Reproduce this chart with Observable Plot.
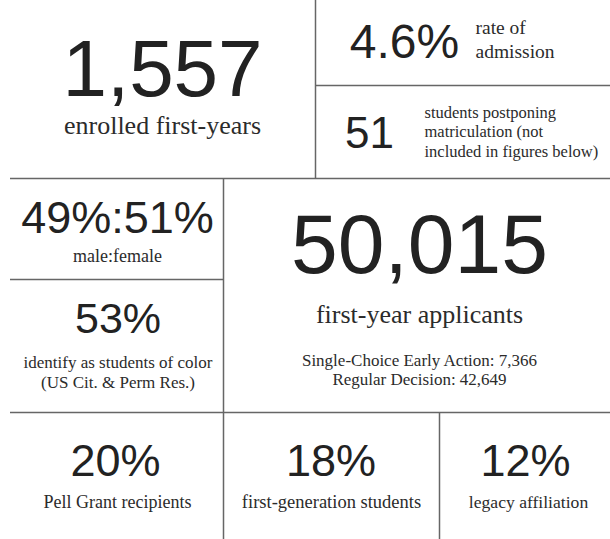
<!DOCTYPE html>
<html>
<head>
<meta charset="utf-8">
<script src="https://cdn.jsdelivr.net/npm/d3@7"></script>
<script src="https://cdn.jsdelivr.net/npm/@observablehq/plot@0.6"></script>
<style>
  html, body { margin: 0; padding: 0; background: #fff; }
  #chart svg { display: block; }
  #chart .serif-text, #chart .serif-text text { font-family: "Liberation Serif", "DejaVu Serif", serif !important; }
  #chart .sans-text, #chart .sans-text text { font-family: "Liberation Sans", Arial, sans-serif !important; }
</style>
</head>
<body>
<div id="chart"></div>
<script>
// ---- data ----
const figures = ["1,557", "4.6%", "51", "49%:51%", "53%", "50,015", "20%", "18%", "12%"];
const captions = [
  ["enrolled first-years"],
  ["rate of", "admission"],
  ["students postponing", "matriculation (not", "included in figures below)"],
  ["male:female"],
  ["identify as students of color", "(US Cit. & Perm Res.)"],
  ["first-year applicants"],
  ["Pell Grant recipients"],
  ["first-generation students"],
  ["legacy affiliation"]
];
const applicantBreakdown = ["Single-Choice Early Action: 7,366", "Regular Decision: 42,649"];

// ---- layout (positions / sizes, kept apart from the data) ----
const W = 610, H = 539;
const figureLayout = [
  {x: 162, y: 95,  size: 80},
  {x: 404, y: 57,  size: 48},
  {x: 369, y: 147, size: 44},
  {x: 117, y: 232, size: 45},
  {x: 117.5, y: 332, size: 43},
  {x: 419, y: 272, size: 84},
  {x: 115, y: 475, size: 45},
  {x: 330.5, y: 475, size: 45},
  {x: 525, y: 475, size: 45}
];
const captionLayout = [
  {x: 162, y: 133, size: 26, gap: 0, anchor: "middle"},
  {x: 475, y: 33, size: 19.5, gap: 24, anchor: "start"},
  {x: 424, y: 117, size: 16.5, gap: 19.5, anchor: "start"},
  {x: 117, y: 261, size: 18, gap: 0, anchor: "middle"},
  {x: 117.5, y: 367, size: 17, gap: 20, anchor: "middle"},
  {x: 419, y: 322, size: 26, gap: 0, anchor: "middle"},
  {x: 117, y: 507, size: 18, gap: 0, anchor: "middle"},
  {x: 331, y: 507, size: 18.5, gap: 0, anchor: "middle"},
  {x: 528, y: 507, size: 17.6, gap: 0, anchor: "middle"}
];
const breakdownLayout = {x: 419, y: 365, size: 17, gap: 19.5};

const hDividers = [
  {y: 85, x1: 315, x2: W},
  {y: 178, x1: 10, x2: W},
  {y: 279, x1: 10, x2: 223},
  {y: 412, x1: 10, x2: W}
];
const vDividers = [
  {x: 315, y1: 0, y2: 178},
  {x: 223, y1: 178, y2: H},
  {x: 439, y1: 412, y2: H}
];

// ---- build tables ----
const figureRows = figures.map((t, i) => ({text: t, ...figureLayout[i]}));
const captionRows = captions.flatMap((lines, i) =>
  lines.map((t, j) => ({
    text: t,
    x: captionLayout[i].x,
    y: captionLayout[i].y + j * captionLayout[i].gap,
    size: captionLayout[i].size,
    anchor: captionLayout[i].anchor
  }))
);
const breakdownRows = applicantBreakdown.map((t, j) => ({
  text: t, x: breakdownLayout.x, y: breakdownLayout.y + j * breakdownLayout.gap, size: breakdownLayout.size
}));

const textMarks = (rows, cls, font, fill) => {
  const byAnchor = d3.group(rows, d => d.anchor || "middle");
  return Array.from(byAnchor, ([anchor, rs]) =>
    Plot.text(rs, {
      x: "x", y: "y", text: "text",
      fontSize: d => d.size,
      textAnchor: anchor,
      lineAnchor: "bottom",
      fontFamily: font,
      className: cls,
      fill
    })
  );
};

const chart = Plot.plot({
  width: W,
  height: H,
  margin: 0,
  x: {domain: [0, W], range: [0, W], axis: null},
  y: {domain: [0, H], range: [0, H], axis: null},
  style: {background: "#fff"},
  marks: [
    Plot.ruleY(hDividers, {y: "y", x1: "x1", x2: "x2", stroke: "#666", strokeWidth: 1.5}),
    Plot.ruleX(vDividers, {x: "x", y1: "y1", y2: "y2", stroke: "#666", strokeWidth: 1.5}),
    ...textMarks(figureRows, "sans-text", "Liberation Sans, Arial, sans-serif", "#222"),
    ...textMarks(captionRows, "serif-text", "Liberation Serif, DejaVu Serif, serif", "#2b2b2b"),
    ...textMarks(breakdownRows, "serif-text", "Liberation Serif, DejaVu Serif, serif", "#2b2b2b")
  ]
});
document.getElementById("chart").appendChild(chart);
</script>
</body>
</html>
